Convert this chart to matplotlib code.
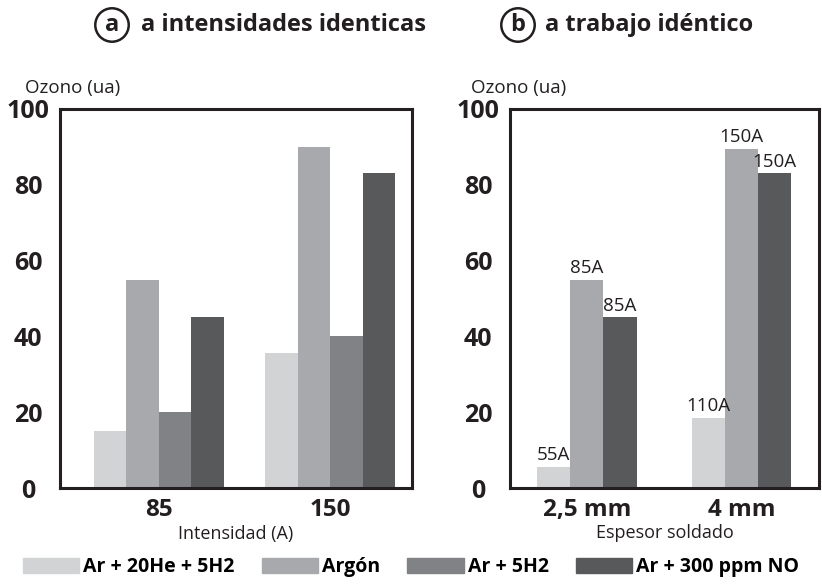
import matplotlib
matplotlib.use("Agg")
import matplotlib.pyplot as plt
from matplotlib.patches import Patch
import numpy as np

# Datos: ozono (ua) por mezcla de gas
series = ["Ar + 20He + 5H2", "Argón", "Ar + 5H2", "Ar + 300 ppm NO"]
colores = ["#d1d3d4", "#a7a9ac", "#808285", "#58595b"]

# (a) a intensidades idénticas
intensidades = ["85", "150"]
ozono_a = {
    "Ar + 20He + 5H2": [15, 35.5],
    "Argón": [55, 90],
    "Ar + 5H2": [20, 40],
    "Ar + 300 ppm NO": [45, 83],
}

# (b) a trabajo idéntico (sin Ar + 5H2)
espesores = ["2,5 mm", "4 mm"]
series_b = ["Ar + 20He + 5H2", "Argón", "Ar + 300 ppm NO"]
ozono_b = {
    "Ar + 20He + 5H2": [5.5, 18.5],
    "Argón": [55, 89.5],
    "Ar + 300 ppm NO": [45, 83],
}
corriente_b = {
    "Ar + 20He + 5H2": ["55A", "110A"],
    "Argón": ["85A", "150A"],
    "Ar + 300 ppm NO": ["85A", "150A"],
}

FONT = "Open Sans"
plt.rcParams["font.family"] = [FONT, "DejaVu Sans"]
negro = "#231f20"

fig = plt.figure(figsize=(8.22, 5.84), dpi=100)
ax_a = fig.add_axes([60 / 822, 1 - 488 / 584, 352 / 822, 379 / 584])
ax_b = fig.add_axes([510 / 822, 1 - 488 / 584, 309 / 822, 379 / 584])


def estilo(ax, cats, xlabel, x_ozono):
    ax.set_ylim(0, 100)
    ax.set_yticks([0, 20, 40, 60, 80, 100])
    ax.set_xticks(range(len(cats)))
    ax.set_xticklabels(cats, fontsize=17.5, fontweight="bold", color=negro)
    for lab in ax.get_yticklabels():
        lab.set_fontsize(18)
        lab.set_fontweight("bold")
        lab.set_horizontalalignment("center")
        lab.set_color(negro)
    ax.tick_params(axis="both", length=0)
    ax.tick_params(axis="y", pad=23)
    ax.tick_params(axis="x", pad=7)
    for s in ax.spines.values():
        s.set_linewidth(2.2)
        s.set_color(negro)
    ax.set_xlabel(xlabel, fontsize=13, color=negro, labelpad=2)
    ax.text(x_ozono, 1.055, "Ozono (ua)", transform=ax.transAxes,
            fontsize=13.5, color=negro, ha="left", va="center")


# panel a
x = np.arange(len(intensidades))
w = 0.189
for i, s in enumerate(series):
    ax_a.bar(x + (i - 1.5) * w, ozono_a[s], w, color=colores[i], linewidth=0)
ax_a.set_xlim(-0.573, 1.474)
estilo(ax_a, intensidades, "Intensidad (A)", -0.10)

# panel b
w = 0.214
for i, s in enumerate(series_b):
    c = colores[series.index(s)]
    bars = ax_b.bar(x + (i - 1) * w, ozono_b[s], w, color=c, linewidth=0)
    ax_b.bar_label(bars, labels=corriente_b[s], padding=2, fontsize=13.5,
                   color=negro)
ax_b.set_xlim(-0.498, 1.502)
estilo(ax_b, espesores, "Espesor soldado", -0.125)

# títulos con letra en círculo
circ = dict(boxstyle="circle,pad=0.2", fc="white", ec=negro, lw=1.8)
fig.text(112 / 822, 1 - 25 / 584, "a", fontsize=17, fontweight="bold",
         ha="center", va="center", color=negro, bbox=circ)
fig.text(141 / 822, 1 - 25 / 584, "a intensidades identicas", fontsize=17,
         fontweight="bold", ha="left", va="center", color=negro)
fig.text(518 / 822, 1 - 25 / 584, "b", fontsize=17, fontweight="bold",
         ha="center", va="center", color=negro, bbox=circ)
fig.text(545 / 822, 1 - 25 / 584, "a trabajo idéntico", fontsize=17,
         fontweight="bold", ha="left", va="center", color=negro)

# leyenda común
handles = [Patch(color=c, label=s) for s, c in zip(series, colores)]
fig.legend(handles=handles, loc="center left", bbox_to_anchor=(15 / 822, 1 - 567 / 584),
           ncol=4, frameon=False, handlelength=2.9, handleheight=0.8,
           handletextpad=0.2, columnspacing=1.4, borderaxespad=0,
           prop={"family": [FONT, "DejaVu Sans"], "weight": "bold", "size": 14})

fig.savefig("out.png", dpi=100)
